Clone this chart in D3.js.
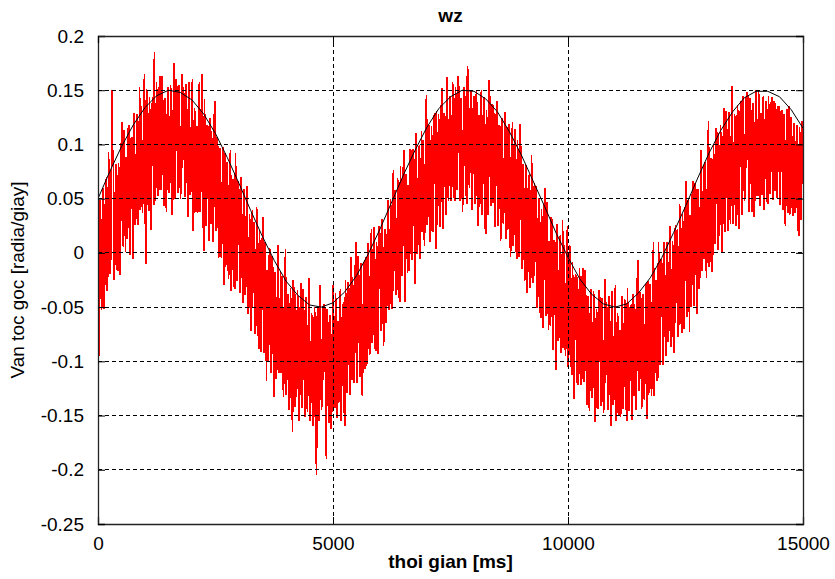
<!DOCTYPE html>
<html>
<head>
<meta charset="utf-8">
<script src="https://cdn.jsdelivr.net/npm/d3@7/dist/d3.min.js"></script>
<style>
html,body{margin:0;padding:0;background:#fff;}
svg{display:block;font-family:"Liberation Sans",Arial,sans-serif;}
</style>
</head>
<body>
<svg id="chart" width="835" height="579"></svg>
<script>
// ---- data ----
const chartTitle = "wz";
const xLabel = "thoi gian [ms]";
const yLabel = "Van toc goc [radia/giay]";
const xDomain = [0, 15000];
const yDomain = [-0.25, 0.2];
const xTicks = [0, 5000, 10000, 15000];
const xTickLabels = ["0", "5000", "10000", "15000"];
const yTicks = [0.2, 0.15, 0.1, 0.05, 0, -0.05, -0.1, -0.15, -0.2, -0.25];
const yTickLabels = ["0.2", "0.15", "0.1", "0.05", "0", "-0.05", "-0.1", "-0.15", "-0.2", "-0.25"];

// reference (black) curve, sampled every 250 ms
const refStep = 250;
const refValues = [
  .05,.075,.098,.118,.134,.145,.150,.148,.141,.128,.110,.088,.064,.039,.015,-.007,
  -.026,-.039,-.048,-.050,-.046,-.036,-.021,-.001,.022,.047,.072,.095,.116,.133,.144,.150,
  .149,.142,.130,.112,.091,.067,.043,.018,-.004,-.024,-.038,-.047,-.050,-.047,-.037,-.023,
  -.004,.019,.043,.068,.092,.113,.130,.143,.149,.149,.144,.132,.115
];

// measured (red) signal: samples at t = 0, 30, 60 ... ms
const measStep = 30;
const measA = [
  .06,-.095,.027,-.04,.048,-.003,.07,-.017,.036,-.006,
  .15,.08,-.003,.07,-.017,.07,.018,.121,.008,.076,
  .088,.015,.118,.05,.107,-.006,.091,.038,.121,.053,
  .04,.102,.058,.165,-.01,.128,.039,.106,.072,.144,
  .185,.063,.123,.053,.163,.068,.133,.043,.128,.088,
  .14,.07,.12,.05,.175,.08,.15,.06,.11,.065,
  .078,.142,.056,.125,.033,.118,.061,.16,.044,.108,
  .117,.04,.158,.066,.165,.002,.095,.038,.116,.044,
  .027,.085,.037,.14,.027,.095,.002,.065,.027,.095,
  .092,.004,.061,-.012,.095,-.002,.06,-.033,.049,.006,
  .053,-.02,.027,-.046,.036,-.023,.044,-.049,-.002,-.05,
  -.037,.025,-.063,.004,-.089,-.006,-.064,.033,-.085,-.023,
  -.016,-.093,.004,-.068,-.016,-.133,-.041,-.098,-.021,-.093,
  -.111,-.053,-.099,.004,-.108,-.04,-.132,-.069,-.165,-.037,
  -.038,-.124,-.065,-.136,-.028,-.123,-.06,-.151,-.067,-.108,
  -.06,-.13,-.08,-.15,-.065,-.205,-.05,-.14,-.09,-.135,
  -.117,-.052,-.19,-.067,-.157,-.072,-.127,-.027,-.142,-.077,
  -.063,-.136,-.035,-.103,-.047,-.16,-.064,-.117,-.036,-.104,
  -.117,-.055,-.097,.01,-.098,-.026,-.114,-.047,-.079,-.007,
  -.004,-.086,-.024,-.091,.022,-.071,-.003,-.09,-.003,-.04,
  .013,-.054,-.001,-.068,.02,-.031,.042,-.045,.008,-.034,
  -.017,.051,-.031,.042,-.045,.044,-.008,.095,-.017,.051,
  .063,-.009,.093,.026,.084,-.029,.069,.017,.099,.032,
  .019,.081,.039,.146,.038,.11,.022,.089,.057,.129,
  .131,.048,.109,.041,.152,.059,.125,.037,.123,.085,
  .138,.068,.118,.048,.133,.078,.148,.058,.108,.063,
  .08,.06,.172,.07,.13,.04,.125,.06,.14,.055,
  .127,.051,.15,.079,.132,.017,.11,.054,.133,.062,
  .046,.104,.057,.14,.048,.116,.024,.087,.05,.118,
  .116,.029,.086,.014,.121,.024,.086,-.006,.076,.034,
  .08,.007,.054,-.019,.063,.006,.073,-.02,.027,-.021,
  -.008,.054,-.034,.033,-.06,.021,-.037,.06,-.058,.004,
  .011,-.067,.03,-.043,.009,-.108,-.016,-.074,.003,-.07,
  -.088,-.03,-.078,.025,-.088,-.02,-.113,-.05,-.088,-.02,
  -.022,-.109,-.05,-.122,-.014,-.111,-.048,-.14,-.056,-.098,
  -.049,-.12,-.071,-.142,-.059,-.114,-.046,-.137,-.088,-.134,
  -.12,-.055,-.14,-.07,-.16,-.075,-.13,-.03,-.145,-.08,
  -.071,-.145,-.044,-.113,-.057,-.155,-.076,-.13,-.049,-.118,
  -.132,-.07,-.114,-.007,-.116,-.044,-.133,-.066,-.1,-.028,
  -.026,-.109,-.047,-.114,.01,-.095,-.028,-.115,-.028,-.066,
  -.013,-.08,-.028,-.095,-.007,-.06,.013,-.074,-.022,-.064,
  -.046,.022,-.06,.013,-.074,.015,-.037,.066,-.046,.022,
  .035,-.037,.066,-.001,.057,-.056,.042,-.01,.073,.006,
  -.006,.057,.014,.122,-.005,.087,0,.068,.035,.108,
  .111,.028,.09,.022,.134,.041,.108,.02,.107,.069,
  .122,.053,.105,.036,.122,.069,.14,.051,.103,.059,
  .078,.143,.058,.128,.038,.123,.068,.15,.053,.118,
  .129,.054,.145,.084,.139,.045,.119,.064,.144,.074,
  .057,.116,.07,.135,.062,.132,.04,.104,.068,.125,
  .135,.048,.106,.034,.118,.045,.108,.016,.099,.057
];
// measured (red) signal: samples at t = 15, 45, 75 ... ms
const measB = [
  -.054,.049,-.053,.06,-.052,.057,-.035,.093,-.019,.079,
  .082,-.025,.082,-.015,.083,-.02,.098,.006,.113,.001,
  .013,.115,-.002,.105,.017,.129,.026,.128,.026,.153,
  .135,.037,.143,.035,.151,.048,.144,.021,.137,.044,
  .048,.158,.053,.153,.058,.163,.048,.143,.038,.153,
  .055,.155,.035,.14,.05,.16,.055,.155,.05,.165,
  .153,.052,.156,.045,.158,.053,.146,.02,.134,.038,
  .037,.145,.038,.136,.039,.142,.025,.118,.011,.124,
  .112,.01,.127,.02,.107,-.005,.097,-.005,.097,-.03,
  -.013,.084,-.024,.083,-.035,.068,-.03,.092,-.026,.066,
  -.037,.07,-.038,.059,-.039,.062,-.056,.036,-.072,.04,
  .028,-.075,.042,-.066,.021,-.091,.011,-.092,.01,-.118,
  -.101,-.003,-.111,-.003,-.121,-.018,-.116,.007,-.111,-.018,
  -.021,-.133,-.029,-.131,-.038,-.145,-.032,-.129,-.025,-.142,
  -.133,-.034,-.155,-.051,-.143,-.033,-.14,-.041,-.147,-.023,
  -.155,-.055,-.16,-.05,-.165,-.06,-.155,-.03,-.145,-.05,
  -.047,-.157,-.052,-.152,-.057,-.162,-.047,-.142,-.037,-.152,
  -.138,-.036,-.155,-.048,-.137,-.025,-.129,-.027,-.131,-.004,
  -.022,-.12,-.012,-.12,-.003,-.106,-.009,-.132,-.014,-.107,
  -.104,.009,-.094,.009,-.083,.024,-.088,.01,-.093,.025,
  -.072,.031,-.086,.022,-.065,.049,-.053,.05,-.052,.076,
  .058,-.039,.069,-.038,.08,-.021,.077,-.045,.073,-.019,
  -.017,.096,-.007,.096,.004,.111,-.001,.097,-.006,.112,
  .104,.006,.129,.026,.118,.01,.117,.019,.127,.004,
  .026,.128,.024,.136,.022,.129,.035,.162,.048,.145,
  .048,.158,.053,.153,.058,.163,.048,.143,.038,.153,
  .145,.045,.165,.06,.15,.04,.145,.045,.15,.025,
  .042,.141,.035,.144,.027,.132,.035,.159,.043,.137,
  .136,.024,.127,.025,.118,.011,.124,.027,.13,.013,
  .021,.119,-.004,.099,.006,.114,.006,.104,-.004,.119,
  -.015,.082,-.026,.081,-.037,.066,-.032,.09,-.028,.064,
  .062,-.051,.051,-.052,.04,-.069,.043,-.055,.047,-.071,
  -.064,.033,-.09,.012,-.081,.027,-.081,.016,-.092,.03,
  .007,-.095,.007,-.105,.007,-.1,-.008,-.135,-.023,-.12,
  -.122,-.014,-.12,-.022,-.119,-.016,-.133,-.04,-.146,-.033,
  -.134,-.035,-.156,-.052,-.144,-.034,-.141,-.042,-.148,-.024,
  -.045,-.145,-.04,-.15,-.035,-.14,-.045,-.155,-.055,-.15,
  -.151,-.04,-.144,-.043,-.137,-.032,-.146,-.05,-.154,-.038,
  -.047,-.145,-.024,-.127,-.036,-.144,-.038,-.136,-.03,-.153,
  -.131,-.029,-.132,-.019,-.132,-.025,-.118,.01,-.103,-.006,
  -.103,.01,-.093,.01,-.082,.025,-.087,.011,-.092,.026,
  .019,-.078,.045,-.057,.036,-.07,.038,-.059,.049,-.073,
  -.05,.053,-.049,.064,-.048,.059,-.033,.095,-.017,.081,
  .084,-.023,.084,-.013,.085,-.018,.1,.008,.115,.003,
  .016,.118,0,.107,.019,.131,.028,.13,.027,.154,
  .027,.128,.025,.136,.022,.129,.035,.145,.048,.144,
  .148,.038,.143,.043,.138,.033,.148,.053,.15,.043,
  .054,.14,.04,.139,.049,.145,.054,.138,.049,.14,
  .138,.051,.135,.044,.13,.052,.128,.025,.133,.037,
  .035,.125,.036,.12,.037,.118,.023,.116,.03,.122
];

// ---- drawing ----
const W = 835, H = 579;
const margin = {left: 98, top: 36, right: 32, bottom: 55};
const pw = W - margin.left - margin.right;   // 705
const ph = H - margin.top - margin.bottom;   // 488

// combine the two interleaved sample sets into one time-ordered series
const measSeries = d3.merge(measA.map((v, i) => [
  {t: i * measStep, v: v},
  {t: i * measStep + measStep / 2, v: measB[i]}
]));

const svg = d3.select("#chart");
svg.append("rect").attr("width", W).attr("height", H).attr("fill", "#fff");

const x = d3.scaleLinear().domain(xDomain).range([margin.left, margin.left + pw]);
const y = d3.scaleLinear().domain(yDomain).range([margin.top + ph, margin.top]);

svg.append("clipPath").attr("id", "plotclip")
  .append("rect").attr("x", margin.left).attr("y", margin.top).attr("width", pw).attr("height", ph);

const plot = svg.append("g").attr("clip-path", "url(#plotclip)");

// red measured signal
plot.append("path")
  .datum(measSeries)
  .attr("fill", "none")
  .attr("stroke", "#ff0000")
  .attr("stroke-width", 1.7)
  .attr("shape-rendering", "crispEdges")
  .attr("d", d3.line().x(d => x(d.t)).y(d => y(d.v)));

// black reference curve
plot.append("path")
  .datum(refValues)
  .attr("fill", "none")
  .attr("stroke", "#000")
  .attr("stroke-width", 1)
  .attr("d", d3.line().x((d, i) => x(i * refStep)).y(d => y(d)));

// grid (drawn on top, MATLAB style)
const grid = svg.append("g");
grid.selectAll("line.gx").data(xTicks.filter(t => t > xDomain[0] && t < xDomain[1])).join("line")
  .attr("x1", d => x(d)).attr("x2", d => x(d))
  .attr("y1", margin.top).attr("y2", margin.top + ph)
  .attr("stroke", "#000").attr("stroke-width", 1).attr("stroke-dasharray", "4,3")
  .attr("shape-rendering", "crispEdges");
grid.selectAll("line.gy").data(yTicks.filter(t => t > yDomain[0] && t < yDomain[1])).join("line")
  .attr("y1", d => y(d)).attr("y2", d => y(d))
  .attr("x1", margin.left).attr("x2", margin.left + pw)
  .attr("stroke", "#000").attr("stroke-width", 1).attr("stroke-dasharray", "4,3")
  .attr("shape-rendering", "crispEdges");

// axes with inward ticks on all four sides
const fontSize = 19;
const axB = svg.append("g").attr("transform", `translate(0,${margin.top + ph})`)
  .call(d3.axisBottom(x).tickValues(xTicks).tickSize(-7).tickPadding(13)
        .tickFormat((d, i) => xTickLabels[i]));
const axL = svg.append("g").attr("transform", `translate(${margin.left},0)`)
  .call(d3.axisLeft(y).tickValues(yTicks).tickSize(-7).tickPadding(14)
        .tickFormat((d, i) => yTickLabels[i]));
const axT = svg.append("g").attr("transform", `translate(0,${margin.top})`)
  .call(d3.axisTop(x).tickValues(xTicks).tickSize(-7).tickFormat(""));
const axR = svg.append("g").attr("transform", `translate(${margin.left + pw},0)`)
  .call(d3.axisRight(y).tickValues(yTicks).tickSize(-7).tickFormat(""));

[axB, axL, axT, axR].forEach(a => {
  a.select(".domain").attr("stroke", "#222").attr("stroke-width", 1.3);
  a.selectAll(".tick line").attr("stroke", "#000");
  a.selectAll("text").attr("font-size", fontSize).attr("fill", "#000")
    .attr("font-family", "'Liberation Sans', Arial, sans-serif");
});

// title & labels
svg.append("text").attr("x", margin.left + pw / 2).attr("y", 22)
  .attr("text-anchor", "middle").attr("font-size", 19).attr("font-weight", "bold")
  .text(chartTitle);
svg.append("text").attr("x", margin.left + pw / 2).attr("y", 568)
  .attr("text-anchor", "middle").attr("font-size", 19).attr("font-weight", "bold")
  .text(xLabel);
svg.append("text").attr("transform", `translate(24,${margin.top + ph / 2}) rotate(-90)`)
  .attr("text-anchor", "middle").attr("font-size", 19)
  .text(yLabel);
</script>
</body>
</html>
